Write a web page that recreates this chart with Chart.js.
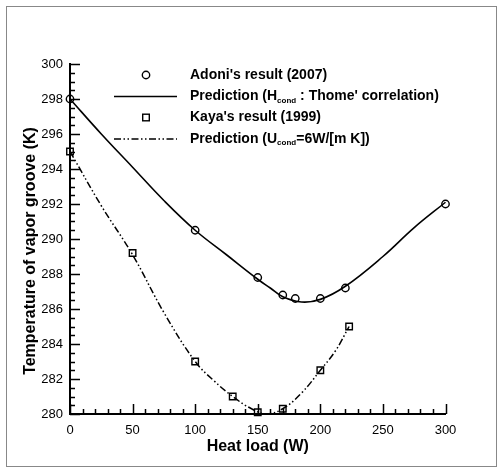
<!DOCTYPE html>
<html>
<head>
<meta charset="utf-8">
<script src="https://cdn.jsdelivr.net/npm/chart.js@4.4.0/dist/chart.umd.min.js"></script>
<style>
  body { margin: 0; background: #fff; }
  #wrap { width: 503px; height: 472px; position: relative; }
</style>
</head>
<body>
<div id="wrap"><canvas id="myChart" width="503" height="472"></canvas></div>
<script>
// measured points
const adoniLoad = [0, 100, 150, 170, 180, 200, 220, 300];
const adoniTemp = [298, 290.5, 287.8, 286.8, 286.6, 286.6, 287.2, 292];
const kayaLoad = [0, 50, 100, 130, 150, 170, 200, 223];
const kayaTemp = [295, 289.2, 283, 281, 280.1, 280.3, 282.5, 285];

// prediction curves
const thomeLoad = [0, 25, 50, 75, 100, 125, 150, 160, 170, 185, 200, 220, 250, 275, 300];
const thomeTemp = [298, 296.0, 294.1, 292.2, 290.5, 289.1, 287.7, 287.2, 286.7, 286.4, 286.55, 287.3, 289.0, 290.65, 292.1];
const ucondLoad = [0, 25, 50, 75, 100, 115, 130, 145, 157, 170, 185, 200, 212, 223];
const ucondTemp = [295, 291.9, 289.1, 285.8, 283.0, 281.9, 281.0, 280.3, 280.0, 280.3, 281.2, 282.5, 283.6, 285.0];

const xTicks = [0, 50, 100, 150, 200, 250, 300];
const yTicks = [280, 282, 284, 286, 288, 290, 292, 294, 296, 298, 300];

const FONT = "'Liberation Sans', Arial, sans-serif";
const DASH = [7, 2.5, 1.5, 2.5, 1.5, 2.5];

function pts(xs, ys) {
  return xs.map((x, i) => ({ x: x, y: ys[i] }));
}

// inward tick marks, axis titles, legend, outer frame
const extras = {
  id: 'extras',
  afterDraw(chart) {
    const ctx = chart.ctx;
    const xs = chart.scales.x, ys = chart.scales.y;
    const a = chart.chartArea;
    ctx.save();
    ctx.strokeStyle = '#000';
    ctx.lineWidth = 1.5;
    ctx.beginPath();
    for (let v = 0; v <= 300; v += 10) {
      const px = Math.round(xs.getPixelForValue(v)) + 0.5;
      const len = v % 50 === 0 ? 10 : 5;
      ctx.moveTo(px, a.bottom);
      ctx.lineTo(px, a.bottom - len);
    }
    for (let v = 280; v <= 300; v += 0.5) {
      const py = Math.round(ys.getPixelForValue(v)) + 0.5;
      const len = v % 2 === 0 ? 10 : 5;
      ctx.moveTo(a.left, py);
      ctx.lineTo(a.left + len, py);
    }
    ctx.stroke();

    // axis titles
    ctx.fillStyle = '#000';
    ctx.font = 'bold 16px ' + FONT;
    ctx.textAlign = 'center';
    ctx.textBaseline = 'middle';
    ctx.fillText('Heat load (W)', (a.left + a.right) / 2, 447);
    ctx.save();
    ctx.translate(31, 251);
    ctx.rotate(-Math.PI / 2);
    ctx.fillText('Temperature of vapor groove (K)', 0, 0);
    ctx.restore();

    // legend
    const rows = [75, 96.5, 117.5, 139];
    const symX = 146, lx0 = 114, lx1 = 177, tx = 190;
    ctx.lineWidth = 1.4;
    ctx.beginPath();
    ctx.arc(symX, rows[0], 3.7, 0, Math.PI * 2);
    ctx.stroke();
    ctx.strokeRect(symX - 3.3, rows[2] - 3.3, 6.6, 6.6);
    ctx.lineWidth = 1.6;
    ctx.beginPath();
    ctx.moveTo(lx0, rows[1]);
    ctx.lineTo(lx1, rows[1]);
    ctx.stroke();
    ctx.setLineDash(DASH);
    ctx.beginPath();
    ctx.moveTo(lx0, rows[3]);
    ctx.lineTo(lx1, rows[3]);
    ctx.stroke();
    ctx.setLineDash([]);

    ctx.textAlign = 'left';
    ctx.textBaseline = 'middle';
    const big = 'bold 14px ' + FONT, small = 'bold 8px ' + FONT;
    function runs(y, parts) {
      let x = tx;
      parts.forEach(p => {
        ctx.font = p[1] ? small : big;
        ctx.fillText(p[0], x, p[1] ? y + 4 : y);
        x += ctx.measureText(p[0]).width;
      });
    }
    runs(rows[0], [["Adoni's result (2007)"]]);
    runs(rows[1], [['Prediction (H'], ['cond', true], [" : Thome' correlation)"]]);
    runs(rows[2], [["Kaya's result (1999)"]]);
    runs(rows[3], [['Prediction (U'], ['cond', true], ['=6W/[m K])']]);

    // outer frame
    ctx.strokeStyle = '#888';
    ctx.lineWidth = 1;
    ctx.strokeRect(6.5, 6.5, 490, 460);
    ctx.restore();
  }
};

const ctx = document.getElementById('myChart').getContext('2d');
new Chart(ctx, {
  type: 'scatter',
  data: {
    datasets: [
      {
        label: "Adoni's result (2007)",
        data: pts(adoniLoad, adoniTemp),
        pointStyle: 'circle',
        pointRadius: 3.7,
        borderColor: '#000',
        backgroundColor: 'rgba(0,0,0,0)',
        pointBorderWidth: 1.4,
        showLine: false,
        clip: false
      },
      {
        label: 'Prediction (Hcond)',
        data: pts(thomeLoad, thomeTemp),
        showLine: true,
        pointRadius: 0,
        borderColor: '#000',
        borderWidth: 1.6,
        tension: 0.4,
        clip: false
      },
      {
        label: "Kaya's result (1999)",
        data: pts(kayaLoad, kayaTemp),
        pointStyle: 'rect',
        pointRadius: 4.6,
        borderColor: '#000',
        backgroundColor: 'rgba(0,0,0,0)',
        pointBorderWidth: 1.4,
        showLine: false,
        clip: false
      },
      {
        label: 'Prediction (Ucond)',
        data: pts(ucondLoad, ucondTemp),
        showLine: true,
        pointRadius: 0,
        borderColor: '#000',
        borderWidth: 1.5,
        borderDash: DASH,
        tension: 0.4,
        clip: false
      }
    ]
  },
  options: {
    responsive: false,
    animation: false,
    layout: { padding: { top: 64, right: 57.5, left: 0, bottom: 0 } },
    plugins: { legend: { display: false }, tooltip: { enabled: false } },
    scales: {
      x: {
        type: 'linear',
        min: 0, max: 300,
        afterFit: s => { s.height = 58; },
        afterBuildTicks: s => { s.ticks = xTicks.map(v => ({ value: v })); },
        grid: { display: false, drawTicks: false },
        border: { display: true, color: '#000', width: 2 },
        ticks: { color: '#000', padding: 9, font: { family: FONT, size: 13 } }
      },
      y: {
        type: 'linear',
        min: 280, max: 300,
        afterFit: s => { s.width = 70; },
        afterBuildTicks: s => { s.ticks = yTicks.map(v => ({ value: v })); },
        grid: { display: false, drawTicks: false },
        border: { display: true, color: '#000', width: 2 },
        ticks: { color: '#000', padding: 7, font: { family: FONT, size: 13 } }
      }
    }
  },
  plugins: [extras]
});
</script>
</body>
</html>
